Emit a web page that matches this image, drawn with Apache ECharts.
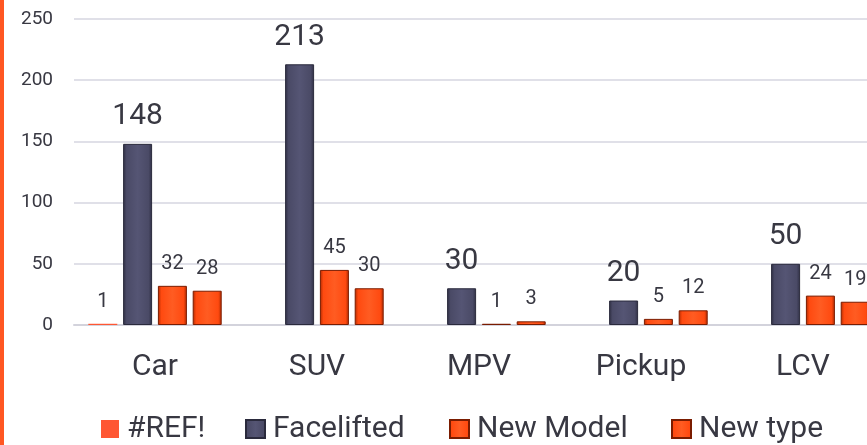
<!DOCTYPE html>
<html>
<head>
<meta charset="utf-8">
<script src="https://cdn.jsdelivr.net/npm/echarts@6/dist/echarts.min.js"></script>
<style>
  html, body { margin: 0; padding: 0; background: #fff; }
  #chart { width: 867px; height: 445px; }
</style>
</head>
<body>
<div id="chart"></div>
<script>
// values
const categories = ['Car', 'SUV', 'MPV', 'Pickup', 'LCV']
const refValues = [1, null, null, null, null]
const faceliftedValues = [148, 213, 30, 20, 50]
const newModelValues = [32, 45, 1, 5, 24]
const newTypeValues = [28, 30, 3, 12, 19]
const yTicks = [0, 50, 100, 150, 200, 250]

const textColor = '#383842'
const font = 'Roboto'

// horizontal gradient to fake the bevelled bars
function bevel (edge, mid, light) {
  return new echarts.graphic.LinearGradient(0, 0, 1, 0, [
    { offset: 0, color: edge },
    { offset: 0.12, color: mid },
    { offset: 0.5, color: light },
    { offset: 0.88, color: mid },
    { offset: 1, color: edge }
  ])
}

const navy = bevel('#2f2f44', '#4a4a66', '#555574')
const red = bevel('#b02a00', '#ff4a10', '#ff5c22')

const smallLabel = {
  show: true,
  position: 'top',
  distance: 12,
  fontFamily: font,
  fontSize: 20,
  color: textColor
}

const chart = echarts.init(document.getElementById('chart'))
chart.setOption({
  animation: false,
  textStyle: { fontFamily: font },
  graphic: [{
    type: 'rect',
    left: 0,
    top: 0,
    shape: { width: 4, height: 445 },
    style: { fill: '#ff5722' }
  }],
  grid: { left: 74, top: 19, width: 810, height: 306, outerBoundsMode: 'none' },
  legend: [
    { name: '#REF!', left: 101, w: 18 },
    { name: 'Facelifted', left: 245, w: 19 },
    { name: 'New Model', left: 449, w: 19 },
    { name: 'New type', left: 671, w: 19 }
  ].map(l => ({
    data: [l.name],
    left: l.left,
    top: 414,
    icon: 'rect',
    itemWidth: l.w,
    itemHeight: 18,
    itemGap: 0,
    padding: 0,
    textStyle: { fontFamily: font, fontSize: 30, color: textColor, padding: [0, 0, 0, 3] }
  })),
  xAxis: {
    type: 'category',
    data: categories,
    axisTick: { show: false },
    axisLine: { lineStyle: { color: '#d3d3dc', width: 2 } },
    axisLabel: { fontFamily: font, fontSize: 30, color: textColor, margin: 27 }
  },
  yAxis: {
    type: 'value',
    min: yTicks[0],
    max: yTicks[yTicks.length - 1],
    interval: 50,
    axisLine: { show: false },
    axisTick: { show: false },
    axisLabel: { fontFamily: font, fontSize: 19, color: textColor, margin: 21 },
    splitLine: { lineStyle: { color: '#e0e0e8', width: 2 } }
  },
  series: [
    {
      name: '#REF!',
      type: 'bar',
      barWidth: 29,
      barGap: '20%',
      data: refValues,
      itemStyle: { color: '#ff5733' },
      label: smallLabel
    },
    {
      name: 'Facelifted',
      type: 'bar',
      barWidth: 29,
      barGap: '20%',
      data: faceliftedValues,
      itemStyle: { color: navy, borderColor: '#2a2a3c', borderWidth: 1 },
      label: Object.assign({}, smallLabel, { fontSize: 30 })
    },
    {
      name: 'New Model',
      type: 'bar',
      barWidth: 29,
      barGap: '20%',
      data: newModelValues,
      itemStyle: { color: red, borderColor: '#7a1c00', borderWidth: 1 },
      label: smallLabel
    },
    {
      name: 'New type',
      type: 'bar',
      barWidth: 29,
      barGap: '20%',
      data: newTypeValues,
      itemStyle: { color: red, borderColor: '#7a1c00', borderWidth: 1 },
      label: smallLabel
    }
  ]
})
</script>
</body>
</html>
